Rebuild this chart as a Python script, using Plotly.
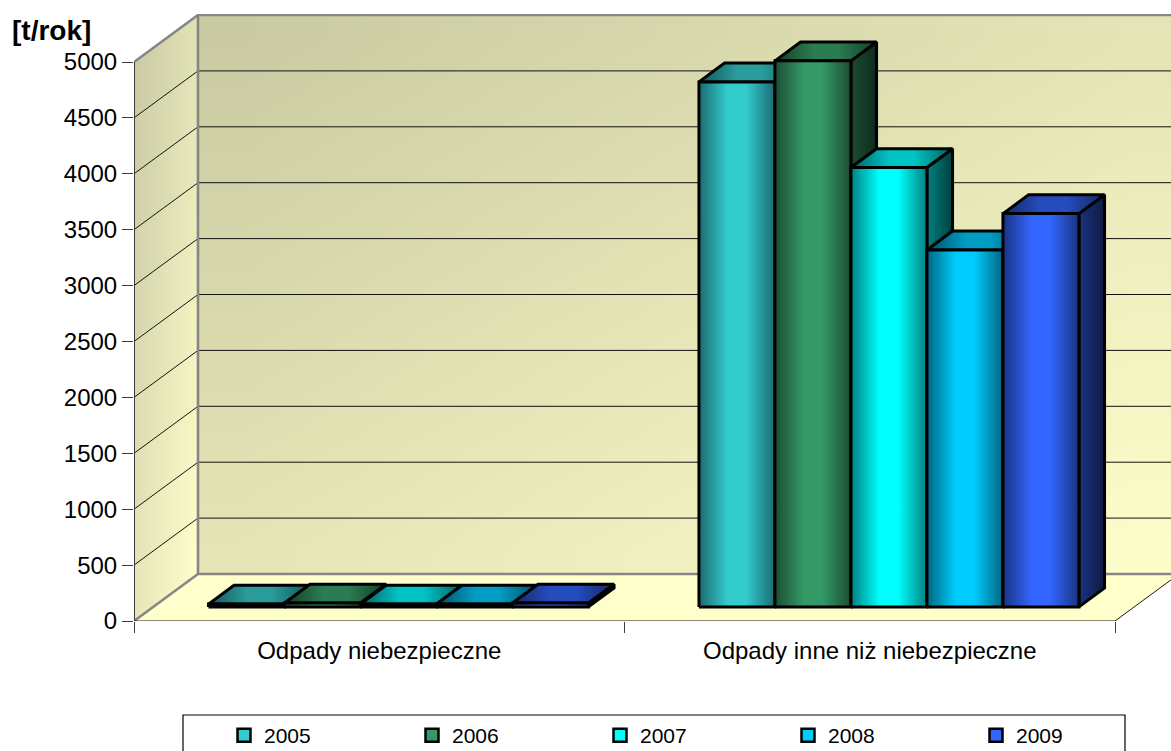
import numpy as np
import plotly.graph_objects as go

# Annual waste mass by group
categories = ["Odpady niebezpieczne", "Odpady inne niż niebezpieczne"]
years = ["2005", "2006", "2007", "2008", "2009"]
values_2005 = [25, 4696]
values_2006 = [35, 4884]
values_2007 = [25, 3930]
values_2008 = [25, 3193]
values_2009 = [35, 3518]
series_values = [values_2005, values_2006, values_2007, values_2008, values_2009]
y_ticks = [0, 500, 1000, 1500, 2000, 2500, 3000, 3500, 4000, 4500, 5000]

# Face colours per series: (edge, centre) of the front face
front_colors = [("#1c6a72", "#33cccc"), ("#1a4d33", "#339966"), ("#008080", "#00ffff"),
                ("#006680", "#00ccff"), ("#1a3380", "#3366ff")]
top_colors = [("#14565c", "#2a9c9c"), ("#143d28", "#2a7d52"), ("#006060", "#00c4c4"),
              ("#004f66", "#009cc4"), ("#142866", "#264dc0")]
side_colors = [("#1a5a60", "#0c2d30"), ("#1a4d33", "#0e2a1c"), ("#008080", "#004040"),
               ("#006680", "#003340"), ("#1a3380", "#0d1a40")]

FONT = "Liberation Sans"
WIDTH, HEIGHT = 1171, 751
M_L, M_R, M_T, M_B = 134, 0, 14, 130

# Oblique projection of the box: axis units gained over the full depth
DEPTH_X = 64 / 490.5
DEPTH_Y = 47 / 0.1118
BAR_W = 76 / 490.5
BAR_NEAR, BAR_FAR = 0.30, 0.70


def project(x, y, depth):
    return x + depth * DEPTH_X, y + depth * DEPTH_Y


def poly(points):
    xs, ys = zip(*(project(*p) for p in points + points[:1]))
    return list(xs), list(ys)


def gradient(colors, symmetric):
    edge, centre = colors
    stops = [[0, edge], [0.38, centre], [0.62, centre], [1, edge]] if symmetric else [[0, edge], [1, centre]]
    return dict(type="horizontal", colorscale=stops)


def face(points, colors, symmetric, group):
    xs, ys = poly(points)
    return go.Scatter(x=xs, y=ys, mode="lines", fill="toself", fillgradient=gradient(colors, symmetric),
                      line=dict(color="#000000", width=3), legendgroup=group, showlegend=False,
                      hoverinfo="skip")


def wire(xs, ys, color, width):
    return go.Scatter(x=xs, y=ys, mode="lines", line=dict(color=color, width=width),
                      showlegend=False, hoverinfo="skip")


def mix(a, b, t):
    channels = [round(a[i] + (b[i] - a[i]) * t) for i in range(3)]
    return "rgb({},{},{})".format(*channels)


fig = go.Figure()

# Back wall with a diagonal shade
n = 12
x_edges = np.linspace(DEPTH_X, 2 + DEPTH_X, n + 1)
y_edges = np.linspace(DEPTH_Y, 5000 + DEPTH_Y, n + 1)
shade = np.add.outer(np.linspace(1, 0, n), np.linspace(0, 1, n)) / 2
fig.add_trace(go.Heatmap(x=x_edges, y=y_edges, z=shade, zsmooth="best", zmin=0, zmax=1, showscale=False,
                         colorscale=[[0, "#cbcba3"], [0.5, "#e4e4b6"], [1, "#fdfdca"]], hoverinfo="skip"))

# Side wall, shaded band by band so it lightens towards the floor
for low, high in zip(y_ticks[:-1], y_ticks[1:]):
    t = 1 - (low + high) / 2 / 5000
    left = mix((201, 201, 164), (230, 230, 186), t)
    right = mix((226, 226, 182), (255, 255, 204), t)
    xs, ys = poly([(0, low, 0), (0, low, 1), (0, high, 1), (0, high, 0)])
    fig.add_trace(go.Scatter(x=xs, y=ys, mode="none", fill="toself", showlegend=False, hoverinfo="skip",
                             fillgradient=dict(type="horizontal", colorscale=[[0, left], [1, right]])))
# Floor
xs, ys = poly([(0, 0, 0), (2, 0, 0), (2, 0, 1), (0, 0, 1)])
fig.add_trace(go.Scatter(x=xs, y=ys, mode="none", fill="toself", fillcolor="#ffffcc",
                         showlegend=False, hoverinfo="skip"))

# Gridlines across the side and back walls
grid_x, grid_y = [], []
for tick in y_ticks[1:-1]:
    for depth, xpos in [(0, 0), (1, 0), (1, 2)]:
        px_, py_ = project(xpos, tick, depth)
        grid_x.append(px_)
        grid_y.append(py_)
    grid_x.append(None)
    grid_y.append(None)
fig.add_trace(wire(grid_x, grid_y, "#111111", 1))

# Box edges
for edge_pts in ([(0, 5000, 0), (0, 5000, 1), (2, 5000, 1)],
                 [(0, 0, 0), (0, 0, 1), (2, 0, 1)],
                 [(0, 0, 1), (0, 5000, 1)]):
    xs, ys = zip(*(project(*p) for p in edge_pts))
    fig.add_trace(wire(list(xs), list(ys), "#868686", 2.6))

# Front edges carrying the axes
fig.add_trace(wire([0, 0], [0, 5000], "#3c3c3c", 2))
fig.add_trace(wire([0, 2], [0, 0], "#1a1a1a", 1.2))
xs, ys = zip(*(project(*p) for p in [(2, 0, 0), (2, 0, 1)]))
fig.add_trace(wire(list(xs), list(ys), "#1a1a1a", 1))

# Bars, painted left to right so nearer faces cover their neighbours
for c, _ in enumerate(categories):
    centre = c + 0.5
    for s, year in enumerate(years):
        value = series_values[s][c]
        x0 = centre + (s - 2.5) * BAR_W
        x1 = x0 + BAR_W
        fig.add_trace(face([(x1, 0, BAR_NEAR), (x1, 0, BAR_FAR), (x1, value, BAR_FAR), (x1, value, BAR_NEAR)],
                           side_colors[s], False, year))
        fig.add_trace(face([(x0, value, BAR_NEAR), (x0, value, BAR_FAR), (x1, value, BAR_FAR), (x1, value, BAR_NEAR)],
                           top_colors[s], True, year))
        fig.add_trace(face([(x0, 0, BAR_NEAR), (x1, 0, BAR_NEAR), (x1, value, BAR_NEAR), (x0, value, BAR_NEAR)],
                           front_colors[s], True, year))

# Legend entries; the last one is narrower so the row stays on one line
for s, year in enumerate(years):
    fig.add_trace(go.Scatter(x=[None], y=[None], mode="markers", name=year, legendgroup=year, showlegend=True,
                             legendwidth=143 if s < 4 else 60,
                             marker=dict(symbol="square", size=13, color=front_colors[s][1],
                                         line=dict(color="#000000", width=2.5))))

plot_w = WIDTH - M_L - M_R
plot_h = HEIGHT - M_T - M_B


def paper_x(px):
    return (px - M_L) / plot_w


def paper_y(py):
    return (HEIGHT - M_B - py) / plot_h


fig.update_layout(
    width=WIDTH, height=HEIGHT,
    margin=dict(l=M_L, r=M_R, t=M_T, b=M_B, pad=0, autoexpand=False),
    paper_bgcolor="#ffffff", plot_bgcolor="#ffffff",
    font=dict(family=FONT, size=24, color="#000000"),
    hovermode=False,
    xaxis=dict(range=[0, plot_w / 490.5], showgrid=False, zeroline=False, showline=False, automargin=False,
               tickmode="array", tickvals=[0.5, 1.5], ticktext=categories,
               ticks="outside", ticklen=8, tickcolor="rgba(0,0,0,0)", tickfont=dict(size=24),
               minor=dict(tickmode="array", tickvals=[0, 1, 2], ticks="outside", ticklen=11,
                          tickcolor="#3c3c3c", tickwidth=1)),
    yaxis=dict(range=[0, plot_h / 0.1118], showgrid=False, zeroline=False, showline=False, automargin=False,
               tickmode="array", tickvals=y_ticks, ticktext=[str(t) for t in y_ticks],
               ticks="outside", ticklen=11, tickcolor="#3c3c3c", tickwidth=1, tickfont=dict(size=24)),
    legend=dict(orientation="h", x=paper_x(224), y=paper_y(715), xanchor="left", yanchor="top",
                font=dict(size=21), bgcolor="rgba(0,0,0,0)",
                traceorder="normal", itemclick=False, itemdoubleclick=False),
    shapes=[dict(type="rect", xref="paper", yref="paper", x0=paper_x(183), x1=paper_x(1125),
                 y0=paper_y(715), y1=paper_y(770), line=dict(color="#000000", width=1.2),
                 fillcolor="rgba(0,0,0,0)")],
    annotations=[dict(text="<b>[t/rok]</b>", xref="paper", yref="paper", x=paper_x(10), y=paper_y(31),
                      xanchor="left", yanchor="middle", showarrow=False, font=dict(size=28))],
)

fig.write_html("out.html")
